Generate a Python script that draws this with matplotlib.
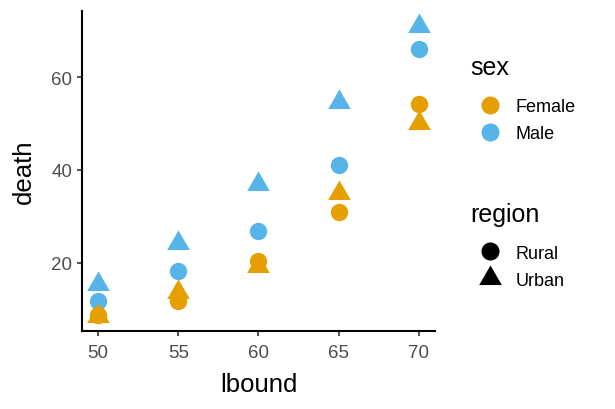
import matplotlib.pyplot as plt
from matplotlib.lines import Line2D

plt.rcParams['font.family'] = ['Liberation Sans', 'DejaVu Sans']

lbound = [50, 55, 60, 65, 70]
rural_male = [11.7, 18.1, 26.9, 41.0, 66.0]
rural_female = [8.7, 11.7, 20.3, 30.9, 54.3]
urban_male = [15.4, 24.3, 37.0, 54.6, 71.1]
urban_female = [8.4, 13.6, 19.3, 35.1, 50.0]

sex_colors = {'Female': '#E69F00', 'Male': '#56B4E9'}
# R-style filled triangle, centred on its centroid
tri = [(0, 1.555), (1.347, -0.778), (-1.347, -0.778), (0, 1.555)]
region_markers = {'Rural': 'o', 'Urban': tri}
region_sizes = {'Rural': 12.5, 'Urban': 18.8}

series = [
    ('Rural', 'Male', rural_male),
    ('Rural', 'Female', rural_female),
    ('Urban', 'Male', urban_male),
    ('Urban', 'Female', urban_female),
]

fig = plt.figure(figsize=(6.15, 4.1), dpi=100)
ax = fig.add_axes([0.1333, 0.1902, 0.5740, 0.7805])

for region, sex, vals in series:
    ax.plot(lbound, vals, linestyle='none', marker=region_markers[region],
            color=sex_colors[sex], markersize=region_sizes[region], markeredgewidth=0)

ax.set_xlim(49, 71)
ax.set_ylim(5.265, 74.235)
ax.set_xticks([50, 55, 60, 65, 70])
ax.set_yticks([20, 40, 60])
for s in ['top', 'right']:
    ax.spines[s].set_visible(False)
for s in ['left', 'bottom']:
    ax.spines[s].set_linewidth(1.5)
ax.tick_params(axis='both', labelsize=13.5, labelcolor='#4D4D4D', color='#333333',
               length=3.6, width=1.2)
ax.tick_params(axis='x', pad=6)
ax.tick_params(axis='y', pad=3.5)
ax.set_xlabel('lbound', fontsize=18.5, labelpad=8)
ax.set_ylabel('death', fontsize=18.5, labelpad=11)

# legends: titles as separate text so the gap can be set
leg_kw = dict(loc='center left', frameon=False, fontsize=13,
              handletextpad=0.7, labelspacing=0.55, borderaxespad=0, borderpad=0,
              handlelength=1.4)

fig.text(0.764, 0.834, 'sex', fontsize=18, va='center', ha='left')
sex_handles = [Line2D([], [], linestyle='none', marker='o', color=sex_colors[k],
                      markersize=13, markeredgewidth=0) for k in ['Female', 'Male']]
fig.legend(sex_handles, ['Female', 'Male'], bbox_to_anchor=(0.776, 0.7048), **leg_kw)

fig.text(0.764, 0.4756, 'region', fontsize=18, va='center', ha='left')
region_handles = [Line2D([], [], linestyle='none', marker=region_markers[k], color='black',
                         markersize=13 if k == 'Rural' else 18.8, markeredgewidth=0)
                  for k in ['Rural', 'Urban']]
fig.legend(region_handles, ['Rural', 'Urban'], bbox_to_anchor=(0.776, 0.3474), **leg_kw)

fig.savefig('out.png', dpi=100)
